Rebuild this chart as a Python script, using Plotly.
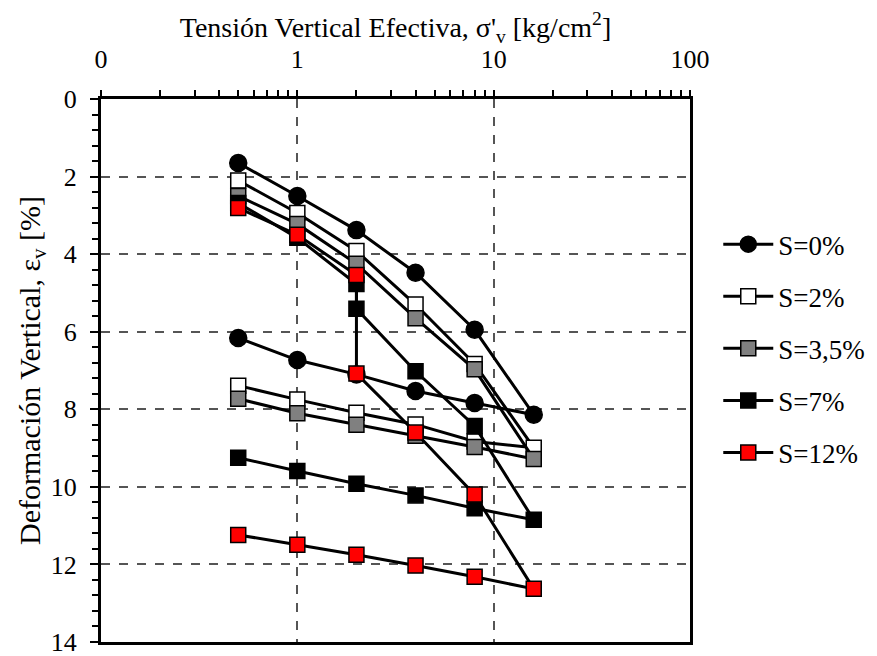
import plotly.graph_objects as go

# Data: effective vertical stress [kg/cm2] and vertical strain [%]
x_s0 = [0.5, 1, 2, 4, 8, 16, 8, 4, 2, 1, 0.5]
y_s0 = [1.65, 2.5, 3.38, 4.48, 5.95, 8.14, 7.84, 7.53, 7.1, 6.73, 6.16]

x_s2 = [0.5, 1, 2, 4, 8, 16, 8, 4, 2, 1, 0.5]
y_s2 = [2.1, 2.94, 3.92, 5.3, 6.83, 8.99, 8.83, 8.39, 8.09, 7.75, 7.39]

x_s35 = [0.5, 1, 2, 4, 8, 16, 8, 4, 2, 1, 0.5]
y_s35 = [2.5, 3.22, 4.25, 5.65, 6.97, 9.28, 8.97, 8.68, 8.4, 8.1, 7.73]

x_s7 = [0.5, 1, 2, 2, 4, 8, 16, 8, 4, 2, 1, 0.5]
y_s7 = [2.68, 3.58, 4.77, 5.41, 7.02, 8.43, 10.85, 10.55, 10.22, 9.92, 9.59, 9.25]

x_s12 = [0.5, 1, 2, 2, 4, 8, 16, 8, 4, 2, 1, 0.5]
y_s12 = [2.81, 3.5, 4.54, 7.08, 8.6, 10.2, 12.63, 12.32, 12.03, 11.75, 11.49, 11.24]

names = ["S=0%", "S=2%", "S=3,5%", "S=7%", "S=12%"]
x_tick_vals = [0.1, 1, 10, 100]
x_tick_text = ["0", "1", "10", "100"]
y_tick_vals = [0, 2, 4, 6, 8, 10, 12, 14]

FONT = "Liberation Serif, Times New Roman, serif"
FS = 26
FT = 28

series = [
    (x_s0, y_s0, "circle", "black", 17),
    (x_s2, y_s2, "square", "white", 15),
    (x_s35, y_s35, "square", "#808080", 15),
    (x_s7, y_s7, "square", "black", 15),
    (x_s12, y_s12, "square", "#ff0000", 15),
]

fig = go.Figure()
for name, (xs, ys, sym, col, sz) in zip(names, series):
    fig.add_trace(go.Scatter(
        x=xs, y=ys, name=name, mode="lines+markers",
        line=dict(color="black", width=3),
        marker=dict(symbol=sym, color=col, size=sz,
                    line=dict(color="black", width=1.5)),
        legendgroup=name,
    ))

minor_x = [a * b for b in (0.1, 1, 10) for a in range(2, 10)]
minor_y = [v / 10 for v in range(0, 141, 4) if v % 20 != 0]

fig.update_layout(
    width=877, height=656,
    margin=dict(l=93, r=195, t=91, b=22, autoexpand=False),
    paper_bgcolor="white", plot_bgcolor="white",
    font=dict(family=FONT, size=FS, color="black"),
    showlegend=True,
    legend=dict(x=1.048, y=0.777, xanchor="left", yanchor="top",
                font=dict(family=FONT, size=27, color="black"),
                itemwidth=50, tracegroupgap=14,
                bgcolor="rgba(0,0,0,0)"),
    xaxis=dict(
        type="log", range=[-1, 2], side="top", automargin=False,
        title=dict(text="Tensión Vertical Efectiva, σ'<sub>v</sub> [kg/cm<sup>2</sup>]",
                   font=dict(family=FONT, size=FT, color="black"), standoff=2),
        tickvals=x_tick_vals, ticktext=x_tick_text,
        tickfont=dict(family=FONT, size=FS, color="black"),
        ticklabelstandoff=12,
        ticks="outside", ticklen=6, tickwidth=2, tickcolor="black",
        showline=True, linewidth=3, linecolor="black", mirror=True,
        showgrid=True, gridcolor="#555555", griddash="dash", gridwidth=1.5,
        zeroline=False,
        minor=dict(tickvals=minor_x, ticks="outside", ticklen=6,
                   tickwidth=1.5, tickcolor="black", showgrid=False),
    ),
    yaxis=dict(
        range=[14, 0], automargin=False,
        title=dict(text="Deformación Vertical, ε<sub>v</sub> [%]",
                   font=dict(family=FONT, size=30, color="black"), standoff=0),
        tickvals=y_tick_vals,
        tickfont=dict(family=FONT, size=FS, color="black"),
        ticklabelstandoff=8,
        ticks="outside", ticklen=8, tickwidth=2, tickcolor="black",
        showline=True, linewidth=3, linecolor="black", mirror=True,
        showgrid=True, gridcolor="#555555", griddash="dash", gridwidth=1.5,
        zeroline=False,
        minor=dict(tickvals=minor_y, ticks="outside", ticklen=6,
                   tickwidth=1.5, tickcolor="black", showgrid=False),
    ),
)

fig.write_html("out.html")
